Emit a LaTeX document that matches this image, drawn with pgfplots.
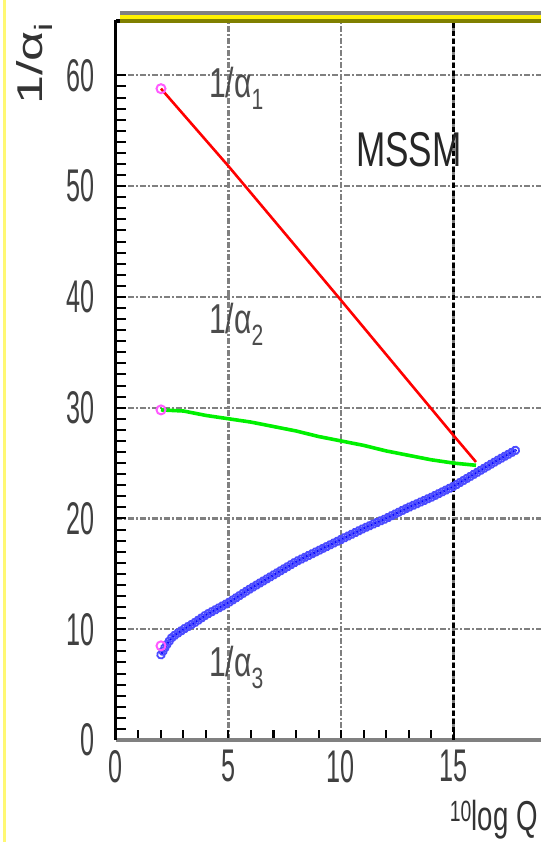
\documentclass[border=0pt]{standalone}
\usepackage{fontspec}
\setmainfont{Liberation Sans}
\newfontfamily\tickfont{Liberation Sans}[FakeStretch=0.55]
\newfontfamily\labfont{Liberation Sans}[FakeStretch=0.72]
\newfontfamily\xlabfont{Liberation Sans}[FakeStretch=0.66]
\newfontfamily\ylabfont{Liberation Sans}[FakeStretch=1.45]
\usepackage{pgfplots}
\pgfplotsset{compat=1.18}
\usetikzlibrary{decorations.markings}
\definecolor{oliv}{RGB}{128,128,0}
\definecolor{mag}{RGB}{255,90,255}
\definecolor{lgreen}{RGB}{0,240,0}
\begin{document}
\begin{tikzpicture}
\path[use as bounding box] (-116bp,-102bp) rectangle (425bp,740bp);
\fill[yellow!55] (-113bp,-102bp) rectangle (-110bp,740bp);
\begin{axis}[
 at={(0,0)}, anchor=south west,
 scale only axis, width=450bp, height=720bp,
 xmin=0, xmax=20, ymin=0, ymax=65,
 axis x line*=bottom, axis y line*=left,
 x axis line style={draw=gray, line width=3.5bp, -},
 y axis line style={draw=black, line width=3bp, -},
 xtick={0,5,10,15}, ytick={0,10,...,60},
 minor x tick num=4, minor y tick num=9,
 tick align=inside,
 major tick length=10bp, minor tick length=10bp,
 every tick/.style={black, line width=2bp},
 grid=major,
 major grid style={gray, line width=2.2bp, dash pattern=on 6bp off 2bp on 2bp off 2bp},
 /pgf/number format/assume math mode=true,
 ticklabel style={font=\tickfont\fontsize{46}{46}\selectfont, inner sep=0pt, text=black!75},
 xticklabel style={yshift=-10bp},
 yticklabel style={xshift=-21bp},
 extra x ticks={15}, extra x tick labels={},
 extra x tick style={major grid style={black, line width=2.2bp, dash pattern=on 5bp off 3bp}},
 clip=false,
]
% 1/alpha_1
\addplot[red, line width=2.6bp] coordinates {(2,58.8)(5,51.8)(10,39.7)(15,27.5)(16,25.1)};
% 1/alpha_2
\addplot[lgreen, line width=3.6bp] coordinates {(2,29.8)(3,29.7)(4,29.3)(5,29.0)(6,28.7)(7,28.3)(8,27.9)(9,27.4)(10,27.0)(11,26.6)(12,26.1)(13,25.7)(14,25.3)(15,25.0)(16,24.8)};
% 1/alpha_3
\addplot[blue, line width=2.5bp, postaction={decorate},
  decoration={markings, mark=between positions 0 and 1 step 4bp with {\draw[blue!70, line width=1.8bp] (0,0) circle (3.8bp);}}]
  coordinates {(2,7.7)(2.25,8.6)(2.5,9.3)(3,10.0)(3.5,10.6)(4,11.3)(5,12.4)(6,13.7)(7,14.9)(8,16.1)(9,17.1)(10,18.1)(11,19.1)(12,20.0)(13,21.0)(14,21.9)(15,22.9)(16,24.1)(17,25.3)(17.8,26.2)};
% start points
\addplot[only marks, mark=o, mark size=4.5bp, mag, line width=2bp] coordinates {(2,58.8)(2,29.8)(2,8.5)};
\node[anchor=base west, inner sep=0pt, text=black!70, font=\labfont\fontsize{42}{42}\selectfont] at (axis cs:4.13,58.0) {1/α\textsubscript{1}};
\node[anchor=base west, inner sep=0pt, text=black!70, font=\labfont\fontsize{42}{42}\selectfont] at (axis cs:4.13,36.7) {1/α\textsubscript{2}};
\node[anchor=base west, inner sep=0pt, text=black!70, font=\labfont\fontsize{42}{42}\selectfont] at (axis cs:4.13,5.7) {1/α\textsubscript{3}};
\node[anchor=base west, inner sep=0pt, text=black!85, font=\labfont\fontsize{49}{49}\selectfont] at (axis cs:10.67,51.8) {MSSM};
\end{axis}
\fill[gray] (4bp,725bp) rectangle (425bp,729bp);
\fill[yellow] (4bp,721bp) rectangle (425bp,725bp);
\fill[oliv] (4bp,717bp) rectangle (425bp,721bp);
\fill[black] (0bp,717bp) rectangle (4bp,721bp);
\node[rotate=90, anchor=base west, inner sep=0pt, text=black!80, font=\ylabfont\fontsize{36}{36}\selectfont] at (-73bp,635bp) {1/α\textsubscript{i}};
\node[anchor=base east, inner sep=0pt, text=black!80, font=\xlabfont\fontsize{42}{42}\selectfont] at (422bp,-90bp) {\textsuperscript{10}log Q};
\end{tikzpicture}
\end{document}
